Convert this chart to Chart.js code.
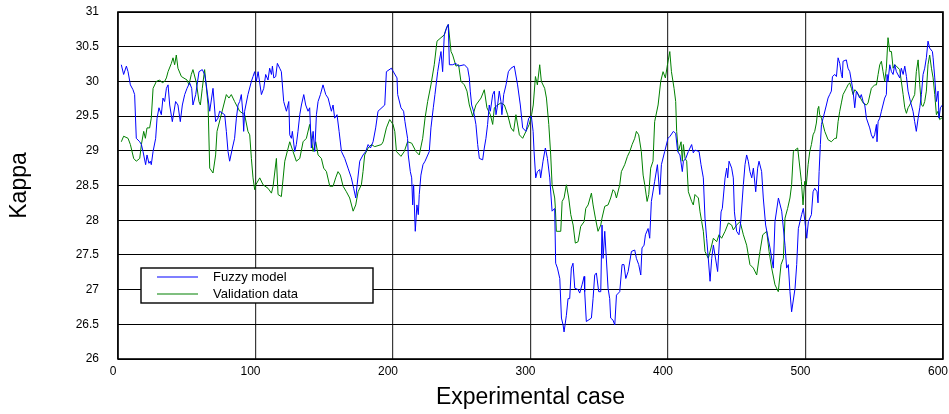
<!DOCTYPE html>
<html>
<head>
<meta charset="utf-8">
<script src="https://cdn.jsdelivr.net/npm/chart.js@4.4.0/dist/chart.umd.min.js"></script>
<style>
  html, body { margin: 0; padding: 0; background: #fff; }
  #wrap { width: 949px; height: 414px; }
</style>
</head>
<body>
<div id="wrap"><canvas id="kappaChart"></canvas></div>
<script>
// [experimental case, kappa] pairs
const fuzzyModel = [
  [2.4,30.24],[4.1,30.10],[6.1,30.22],[7.3,30.14],[9.0,29.95],[10.9,29.88],[12.1,29.81],[13.3,29.18],
  [15.8,29.13],[17.0,29.09],[18.2,28.99],[20.1,28.80],[21.1,28.94],[22.5,28.82],[23.5,28.85],[24.2,28.80],
  [25.5,28.99],[27.4,29.18],[28.4,29.47],[29.8,29.62],[31.5,29.52],[32.7,29.76],[33.9,29.71],[35.2,29.90],
  [36.4,29.95],[37.6,29.66],[39.5,29.42],[41.9,29.71],[43.6,29.66],[45.3,29.42],[46.8,29.66],[48.5,29.81],
  [50.2,29.90],[52.1,29.98],[53.6,29.90],[54.5,29.66],[56.5,29.81],[58.9,30.14],[61.3,30.17],[63.0,30.10],
  [64.2,29.95],[66.7,29.57],[69.1,29.90],[71.0,29.42],[72.7,29.47],[73.9,29.57],[77.6,29.52],[78.8,29.28],
  [80.0,28.99],[81.2,28.85],[83.2,29.04],[84.8,29.18],[86.1,29.47],[87.3,29.66],[88.5,29.71],[89.7,29.81],
  [90.9,29.52],[91.4,29.28],[92.1,29.57],[94.5,29.81],[97.0,30.00],[98.2,30.07],[99.4,30.14],[100.6,30.00],
  [101.9,30.14],[104.3,29.81],[106.0,29.90],[107.4,30.10],[109.1,30.02],[110.3,30.19],[111.6,30.10],[112.3,30.22],
  [113.3,30.05],[114.7,30.07],[115.9,30.26],[117.6,30.19],[118.8,30.14],[120.5,29.71],[122.5,29.57],[124.2,29.71],
  [124.9,29.23],[126.1,29.18],[126.8,29.28],[128.5,28.99],[129.7,29.09],[130.9,29.28],[132.2,29.52],[133.4,29.66],
  [135.1,29.81],[136.5,29.66],[138.2,29.57],[139.4,29.62],[140.6,29.04],[141.9,29.28],[143.1,28.99],[144.3,29.52],
  [145.5,29.71],[147.2,29.81],[149.1,29.95],[151.1,29.81],[152.8,29.76],[155.2,29.57],[156.4,29.66],[157.6,29.47],
  [159.3,29.52],[160.8,29.28],[162.5,28.99],[164.9,28.89],[167.3,28.75],[169.7,28.61],[171.4,28.46],[172.9,28.32],
  [173.9,28.51],[175.8,28.85],[178.2,28.94],[180.2,28.99],[181.9,29.09],[183.6,29.04],[185.5,29.13],[187.4,29.33],
  [189.1,29.57],[194.0,29.66],[195.2,30.14],[198.8,30.19],[202.9,30.05],[203.4,29.81],[205.8,29.62],[207.7,29.57],
  [208.7,29.42],[210.6,29.18],[211.1,28.94],[212.6,28.70],[213.6,28.61],[214.3,28.22],[215.0,28.51],[216.2,27.84],
  [217.4,28.22],[218.4,28.08],[219.1,28.37],[220.3,28.65],[221.8,28.80],[223.3,28.85],[226.4,28.99],[227.6,29.33],
  [229.3,29.62],[230.5,29.81],[232.5,30.14],[233.7,30.29],[234.9,30.43],[236.1,30.14],[237.3,30.67],[239.3,30.79],
  [240.2,30.82],[241.0,30.24],[243.4,30.24],[245.8,30.26],[247.5,30.22],[251.9,30.24],[254.3,30.19],[255.5,30.05],
  [256.2,29.86],[257.2,29.66],[258.6,29.57],[260.3,29.38],[261.6,29.09],[262.8,28.89],[265.2,28.87],[266.4,29.04],
  [267.6,29.18],[268.8,29.38],[270.0,29.66],[270.8,29.57],[272.5,29.81],[273.7,29.86],[274.9,29.52],[276.1,29.66],
  [277.3,29.86],[278.5,29.71],[279.2,29.52],[280.5,29.81],[282.2,29.95],[283.9,30.14],[285.8,30.19],[288.2,30.22],
  [290.6,29.95],[292.6,29.66],[294.3,29.33],[296.7,29.28],[298.7,29.47],[300.6,29.50],[301.9,29.28],[302.6,28.99],
  [303.8,28.61],[305.0,28.70],[306.7,28.73],[307.4,28.61],[309.1,28.85],[310.8,29.04],[312.3,28.89],[314.0,28.61],
  [315.7,28.13],[317.6,28.17],[318.3,27.38],[319.6,27.31],[321.3,27.16],[322.5,26.59],[323.7,26.49],[324.4,26.39],
  [326.1,26.63],[327.3,26.87],[328.5,26.87],[329.7,27.31],[330.9,27.38],[332.2,27.02],[334.6,27.00],[335.8,26.95],
  [337.5,27.07],[339.0,27.19],[339.4,26.97],[340.6,26.54],[344.3,26.59],[345.5,26.87],[346.7,27.21],[347.9,27.24],
  [349.6,26.97],[351.1,26.97],[352.0,27.93],[352.8,27.45],[354.0,27.84],[356.4,27.02],[357.6,26.87],[358.3,26.59],
  [360.0,26.56],[361.3,26.49],[362.5,26.92],[364.9,26.97],[366.6,27.36],[368.0,27.36],[369.3,27.16],[371.0,27.26],
  [373.4,27.55],[375.8,27.57],[377.0,27.45],[378.7,27.36],[380.2,27.21],[381.1,27.60],[382.6,27.64],[383.6,27.79],
  [385.5,27.88],[386.7,27.74],[387.9,28.27],[390.3,28.56],[392.3,28.80],[394.0,28.37],[395.2,28.80],[397.6,28.99],
  [400.0,29.18],[401.5,29.21],[403.9,29.28],[405.6,29.25],[407.0,28.99],[408.7,28.94],[410.4,28.70],[411.2,28.85],
  [412.9,28.89],[414.8,28.99],[417.2,29.09],[418.4,28.97],[419.6,29.01],[422.6,28.99],[424.0,28.80],[425.7,28.61],
  [426.9,28.03],[428.1,27.74],[429.3,27.45],[430.6,27.12],[431.8,27.45],[433.0,27.64],[436.1,27.26],[438.6,28.12],
  [439.5,28.17],[441.5,28.61],[442.7,28.75],[443.4,28.61],[444.4,28.85],[446.3,28.75],[447.5,28.61],[448.3,28.12],
  [449.9,27.84],[451.6,27.79],[452.9,27.98],[454.1,28.32],[454.8,28.51],[456.0,28.80],[457.2,28.94],[458.4,28.85],
  [459.6,28.70],[460.9,28.61],[462.1,28.75],[463.8,28.41],[465.2,28.75],[466.2,28.85],[468.1,28.70],[469.3,28.32],
  [471.0,27.93],[474.2,27.60],[476.6,27.31],[477.8,27.98],[480.3,28.32],[482.7,28.13],[485.1,27.64],[486.3,27.31],
  [487.5,27.36],[488.7,26.97],[489.9,26.68],[492.4,27.02],[493.6,27.36],[494.8,27.88],[497.2,28.08],[498.4,28.17],
  [499.6,27.98],[500.9,27.74],[502.1,27.98],[504.3,28.08],[505.5,28.41],[506.7,28.46],[508.4,28.41],[509.1,28.25],
  [509.9,28.70],[510.8,29.09],[511.6,29.38],[512.8,29.47],[515.2,29.66],[516.4,29.76],[517.6,29.81],[518.8,29.86],
  [519.6,30.07],[521.3,30.10],[522.5,30.07],[523.7,30.34],[524.9,30.26],[526.1,30.10],[526.8,30.05],[527.3,30.29],
  [529.7,30.31],[530.9,30.19],[532.2,30.14],[533.4,30.00],[534.6,29.86],[535.8,29.62],[537.0,29.86],[538.2,29.81],
  [539.4,29.76],[540.6,29.81],[541.9,29.71],[543.1,29.66],[544.3,29.47],[546.7,29.33],[547.9,29.23],[549.1,29.18],
  [550.3,29.23],[551.6,29.38],[552.0,29.13],[552.8,29.42],[554.0,29.47],[555.2,29.57],[557.6,29.76],[558.8,29.81],
  [559.3,30.10],[560.0,30.00],[561.3,30.24],[562.5,30.14],[563.7,30.10],[564.9,30.24],[566.1,30.14],[568.5,30.05],
  [569.7,30.19],[571.0,30.10],[572.2,30.22],[573.4,30.07],[574.6,29.86],[576.3,29.71],[578.2,29.57],[579.4,29.42],
  [580.6,29.28],[581.9,29.47],[583.1,29.62],[584.3,29.81],[585.5,30.10],[586.7,30.19],[587.9,30.34],[589.1,30.58],
  [590.3,30.48],[592.3,30.43],[592.8,30.34],[594.0,30.05],[595.2,29.71],[596.4,29.86],[597.1,29.47],[598.1,29.62],
  [599.6,29.66],[600.0,29.64]
];

const validationData = [
  [2.4,29.13],[4.1,29.21],[7.3,29.18],[9.0,29.09],[11.4,28.89],[13.3,28.85],[15.8,28.89],[17.0,29.09],
  [18.7,29.28],[19.9,29.18],[21.1,29.33],[23.0,29.33],[24.2,29.47],[25.5,29.90],[27.9,30.00],[30.3,30.02],
  [32.2,29.98],[33.9,30.00],[35.2,30.05],[36.4,30.14],[38.8,30.26],[40.0,30.34],[41.2,30.24],[42.4,30.38],
  [43.6,30.19],[46.1,30.07],[50.2,30.02],[51.6,29.95],[53.3,30.10],[54.5,30.17],[57.0,29.98],[58.9,29.71],
  [59.9,29.66],[61.3,29.90],[63.0,30.17],[65.5,29.66],[66.7,28.75],[69.1,28.68],[71.0,28.94],[72.0,29.28],
  [78.8,29.81],[80.7,29.76],[82.4,29.81],[84.8,29.71],[88.5,29.57],[92.1,29.52],[94.5,29.28],[95.8,29.23],
  [97.0,28.89],[98.2,28.61],[99.4,28.44],[100.2,28.51],[103.1,28.61],[105.5,28.51],[109.1,28.46],[111.6,28.39],
  [112.8,28.49],[115.2,28.89],[116.4,28.37],[118.8,28.34],[121.3,28.85],[124.9,29.13],[127.3,28.99],[129.7,28.85],
  [132.2,28.89],[134.6,29.13],[137.0,29.18],[139.4,29.38],[140.6,29.18],[141.9,28.99],[143.8,29.13],[145.5,28.94],
  [147.9,28.89],[149.6,28.75],[151.6,28.70],[154.0,28.49],[156.4,28.49],[158.3,28.61],[160.0,28.70],[161.7,28.65],
  [163.7,28.49],[166.1,28.41],[168.5,28.32],[171.0,28.13],[172.9,28.22],[174.6,28.41],[177.0,28.51],[178.2,28.70],
  [179.4,28.94],[181.9,29.04],[184.3,29.09],[186.7,29.06],[191.6,29.09],[192.8,29.13],[195.2,29.33],[197.6,29.45],
  [200.0,29.38],[201.3,29.28],[202.5,28.99],[205.8,28.92],[208.2,28.99],[210.6,29.13],[213.6,29.11],[216.7,28.99],
  [219.1,28.94],[221.6,29.18],[223.3,29.47],[225.2,29.71],[227.6,29.95],[230.0,30.24],[232.0,30.58],[234.9,30.63],
  [237.3,30.67],[238.5,30.75],[240.2,30.82],[242.2,30.43],[243.4,30.38],[245.8,30.22],[247.7,30.24],[249.4,30.00],
  [251.9,29.95],[253.8,29.86],[255.5,29.66],[257.9,29.50],[260.3,29.66],[264.0,29.76],[266.4,29.88],[268.3,29.62],
  [270.8,29.52],[272.5,29.38],[273.7,29.62],[276.1,29.66],[278.5,29.69],[281.0,29.66],[283.4,29.52],[285.8,29.33],
  [287.7,29.28],[289.4,29.52],[291.9,29.23],[294.3,29.18],[296.7,29.28],[299.1,29.38],[300.8,29.52],[302.0,29.66],
  [303.6,30.07],[305.0,29.95],[306.7,30.24],[307.9,30.00],[310.3,29.90],[311.6,29.76],[313.3,29.38],[314.7,28.94],
  [315.7,28.51],[317.6,28.32],[318.1,28.17],[318.8,27.84],[322.0,27.84],[323.0,28.27],[324.4,28.32],[326.1,28.51],
  [327.8,28.32],[329.3,28.08],[331.0,27.93],[332.6,27.67],[334.6,27.69],[336.5,27.91],[339.0,27.98],[340.2,28.17],
  [341.9,28.22],[344.3,28.39],[345.5,28.22],[347.2,28.03],[349.1,27.84],[351.1,27.93],[352.0,28.03],[354.0,28.20],
  [356.4,28.22],[358.3,28.32],[360.0,28.44],[361.3,28.41],[362.5,28.32],[364.9,28.51],[366.1,28.70],[368.5,28.80],
  [370.5,28.92],[372.2,28.99],[373.9,29.09],[375.8,29.18],[377.0,29.28],[378.7,29.23],[380.6,28.99],[381.9,28.65],
  [383.1,28.51],[384.8,28.27],[386.0,28.37],[387.4,28.75],[389.1,28.85],[390.3,29.42],[392.8,29.66],[394.7,30.00],
  [396.4,30.14],[398.1,30.05],[399.6,30.24],[401.3,30.43],[402.5,30.14],[404.4,29.90],[405.6,29.71],[406.3,29.28],
  [407.5,28.99],[409.5,29.13],[410.4,28.85],[411.2,29.09],[412.4,28.89],[413.6,28.85],[414.8,28.41],[417.2,28.27],
  [418.4,28.22],[419.6,28.37],[422.1,28.32],[423.3,28.12],[424.5,27.98],[425.7,27.84],[426.9,27.55],[429.3,27.45],
  [431.3,27.60],[433.0,27.74],[435.4,27.69],[437.1,27.79],[439.0,27.74],[441.5,27.84],[443.9,27.96],[446.3,27.93],
  [447.5,27.86],[449.9,27.93],[452.4,27.98],[454.8,27.79],[457.2,27.64],[459.6,27.36],[462.1,27.31],[464.5,27.21],
  [466.9,27.55],[468.9,27.79],[471.8,27.84],[473.5,27.55],[475.4,27.31],[477.8,27.07],[480.2,26.97],[482.2,27.36],
  [483.9,27.45],[485.1,28.03],[487.0,28.17],[488.7,28.32],[489.9,28.51],[491.2,28.99],[494.3,29.04],[497.0,28.56],
  [498.2,28.22],[499.4,28.56],[500.6,28.51],[501.9,28.80],[503.1,28.99],[504.3,29.09],[505.5,29.23],[506.7,29.28],
  [507.9,29.40],[509.1,29.62],[509.6,29.64],[510.3,29.52],[511.6,29.47],[514.0,29.28],[516.4,29.16],[518.8,29.13],
  [521.3,29.18],[522.5,29.18],[523.7,29.42],[524.9,29.57],[526.1,29.69],[527.3,29.81],[529.7,29.90],[530.9,29.95],
  [532.2,29.98],[533.4,29.90],[534.6,29.81],[535.8,29.88],[537.0,29.86],[539.4,29.78],[541.9,29.69],[544.3,29.66],
  [545.5,29.69],[547.9,29.90],[550.3,29.95],[551.6,29.95],[552.8,30.10],[554.0,30.24],[555.2,30.29],[556.4,30.14],
  [557.6,30.00],[558.8,30.19],[560.0,30.63],[561.3,30.43],[562.5,30.43],[563.7,30.19],[564.9,30.24],[566.1,30.22],
  [568.5,30.17],[569.7,30.00],[571.0,29.81],[572.2,29.62],[573.4,29.54],[574.6,29.62],[575.8,29.66],[578.2,29.76],
  [579.4,29.81],[580.6,30.14],[581.9,30.31],[583.1,29.95],[584.3,29.66],[585.5,29.64],[586.7,29.71],[587.9,29.86],
  [589.1,30.24],[590.3,30.38],[591.6,30.19],[592.8,30.05],[594.0,29.81],[595.2,29.52],[596.4,29.57],[597.6,29.45],
  [598.8,29.47],[600.0,29.45]
];

const seriesNames = ['Fuzzy model', 'Validation data'];
const seriesColors = ['#0000ff', '#008000'];

const xTicks = [0, 100, 200, 300, 400, 500, 600];
const yTicks = [26, 26.5, 27, 27.5, 28, 28.5, 29, 29.5, 30, 30.5, 31];

const toPoints = pairs => pairs.map(([x, y]) => ({ x, y }));

// black frame around the plot area
const frame = {
  id: 'frame',
  afterDatasetsDraw(chart) {
    const { ctx, chartArea: a } = chart;
    ctx.save();
    ctx.strokeStyle = '#000';
    ctx.lineWidth = 1.6;
    ctx.strokeRect(a.left, a.top, a.right - a.left, a.bottom - a.top);
    ctx.restore();
  }
};

// boxed legend sitting inside the plot, lower left
const boxLegend = {
  id: 'boxLegend',
  afterDatasetsDraw(chart) {
    const { ctx, chartArea: a } = chart;
    const left = a.left + 23, top = a.top + 256, w = 232, h = 35;
    ctx.save();
    ctx.fillStyle = '#fff';
    ctx.fillRect(left, top, w, h);
    ctx.strokeStyle = '#000';
    ctx.lineWidth = 1.4;
    ctx.strokeRect(left, top, w, h);
    ctx.font = '13px "Liberation Sans", Arial, sans-serif';
    ctx.textBaseline = 'middle';
    chart.data.datasets.forEach((ds, i) => {
      const y = Math.round(top + 9 + i * 16.5);
      ctx.strokeStyle = ds.borderColor;
      ctx.lineWidth = 1.2;
      ctx.beginPath();
      ctx.moveTo(left + 16, y);
      ctx.lineTo(left + 57, y);
      ctx.stroke();
      ctx.fillStyle = '#000';
      ctx.fillText(ds.label, left + 72, y);
    });
    ctx.restore();
  }
};

const font = '"Liberation Sans", Arial, sans-serif';

new Chart(document.getElementById('kappaChart'), {
  type: 'line',
  data: {
    datasets: [
      { label: seriesNames[0], data: toPoints(fuzzyModel), borderColor: seriesColors[0] },
      { label: seriesNames[1], data: toPoints(validationData), borderColor: seriesColors[1] }
    ]
  },
  options: {
    responsive: true,
    maintainAspectRatio: false,
    animation: false,
    layout: { padding: { top: 12, right: 6, left: 0, bottom: 0 } },
    elements: {
      line: { borderWidth: 1, tension: 0 },
      point: { radius: 0 }
    },
    plugins: {
      legend: { display: false },
      tooltip: { enabled: false }
    },
    scales: {
      x: {
        type: 'linear',
        min: 0,
        max: 600,
        afterBuildTicks: s => { s.ticks = xTicks.map(v => ({ value: v })); },
        afterFit: s => { s.height = 55; s.paddingLeft = 0; s.paddingRight = 0; },
        ticks: {
          color: '#000',
          padding: 5,
          labelOffset: -5,
          maxRotation: 0,
          autoSkip: false,
          callback: v => String(v),
          font: { family: font, size: 12 }
        },
        grid: { color: '#3a3a3a', lineWidth: 1.2, drawTicks: false },
        border: { display: false },
        title: {
          display: true,
          text: 'Experimental case',
          color: '#000',
          padding: { top: 0, bottom: 3 },
          font: { family: font, size: 23 }
        }
      },
      y: {
        type: 'linear',
        min: 26,
        max: 31,
        afterBuildTicks: s => { s.ticks = yTicks.map(v => ({ value: v })); },
        afterFit: s => { s.width = 118; s.paddingTop = 0; s.paddingBottom = 0; },
        ticks: {
          color: '#000',
          padding: 19,
          callback: v => String(v),
          font: { family: font, size: 12 }
        },
        grid: { color: '#000', lineWidth: 1, drawTicks: false },
        border: { display: false },
        title: {
          display: true,
          text: 'Kappa',
          color: '#000',
          padding: { top: 6, bottom: 0 },
          font: { family: font, size: 23 }
        }
      }
    }
  },
  plugins: [frame, boxLegend]
});
</script>
</body>
</html>
